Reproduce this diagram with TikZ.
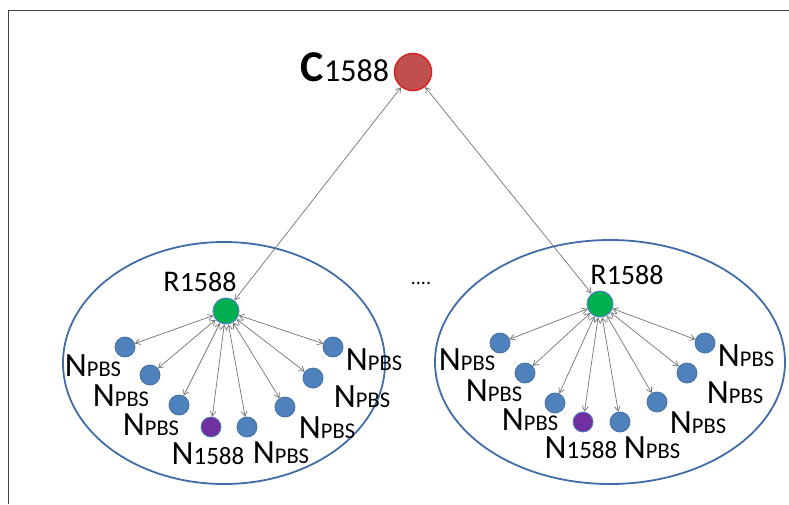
\documentclass[tikz,border=0pt]{standalone}
\usepackage{fontspec}
\setmainfont{Carlito}
\usepackage{xcolor}
\usetikzlibrary{shapes,arrows.meta,positioning}

\definecolor{hubred}{RGB}{192,80,77}
\definecolor{hubrim}{RGB}{215,35,35}
\definecolor{relaygreen}{RGB}{0,176,80}
\definecolor{nodeblue}{RGB}{79,129,189}
\definecolor{nodepurple}{RGB}{112,48,160}
\definecolor{clusterblue}{RGB}{66,108,168}

\newcommand{\subtxt}[2]{{\fontsize{#1}{#1}\selectfont #2}}
\newcommand{\npbs}{N\subtxt{22.5}{PBS}}
\newcommand{\nieee}{N\subtxt{25}{1588}}
\newcommand{\rieee}{R\subtxt{28}{1588}}

\begin{document}
\begin{tikzpicture}[
    x=1pt, y=-1pt,
    frame/.style={draw=black!75, line width=1pt},
    cluster/.style={ellipse, draw=clusterblue, line width=1.8pt, inner sep=0pt},
    hub/.style={circle, fill=hubred, draw=hubrim, line width=1.5pt, minimum size=37pt, inner sep=0pt},
    relay/.style={circle, fill=relaygreen, draw=nodeblue, line width=1pt, minimum size=26pt, inner sep=0pt},
    pbs/.style={circle, fill=nodeblue, draw=nodeblue!85!black, line width=0.8pt, minimum size=20pt, inner sep=0pt},
    ieee/.style={pbs, fill=nodepurple, draw=nodeblue},
    lab/.style={inner sep=0pt, font=\fontsize{34}{34}\selectfont},
    rlab/.style={inner sep=0pt, font=\fontsize{30}{30}\selectfont},
    link/.style={<->, >={Straight Barb[length=5pt, width=6pt]}, line width=0.7pt, color=black!55}
]
    \useasboundingbox (0,0) rectangle (789,504);
    \draw[frame] (8,504) -- (8,10) -- (789,10);

    % Two clusters
    \node[cluster, minimum width=322pt, minimum height=242pt] (leftcl)  at (224,363) {};
    \node[cluster, minimum width=350pt, minimum height=244pt] (rightcl) at (610,362) {};
    \node[font=\fontsize{20}{20}\selectfont, inner sep=0pt] (dots) at (421,283) {....};

    % Grandmaster clock
    \node[hub] (gm) at (413,72) {};
    \node[inner sep=0pt, anchor=base] (gmlab) at (345,81) {\fontsize{44}{44}\selectfont\textbf{C}\subtxt{32}{1588}};

    % Left cluster
    \node[relay] (r1) at (226,311) {};
    \node[rlab] (r1lab) at (200,282) {\rieee};
    \node[pbs]  (n11) at (125,347) {};
    \node[pbs]  (n12) at (150,375) {};
    \node[pbs]  (n13) at (179,405) {};
    \node[ieee] (n14) at (211,427) {};
    \node[pbs]  (n15) at (247,427) {};
    \node[pbs]  (n16) at (285,407) {};
    \node[pbs]  (n17) at (313,378) {};
    \node[pbs]  (n18) at (333,347) {};
    \node[lab] (t11) at (93,366)  {\npbs};
    \node[lab] (t12) at (121,396) {\npbs};
    \node[lab] (t13) at (151,425) {\npbs};
    \node[lab] (t14) at (208,454) {\nieee};
    \node[lab] (t15) at (281,453) {\npbs};
    \node[lab] (t16) at (327,428) {\npbs};
    \node[lab] (t17) at (362,397) {\npbs};
    \node[lab] (t18) at (374,360) {\npbs};

    % Right cluster
    \node[relay] (r2) at (600,304) {};
    \node[rlab] (r2lab) at (627,275) {\rieee};
    \node[pbs]  (n21) at (500,343) {};
    \node[pbs]  (n22) at (525,373) {};
    \node[pbs]  (n23) at (555,403) {};
    \node[ieee] (n24) at (583,422) {};
    \node[pbs]  (n25) at (620,422) {};
    \node[pbs]  (n26) at (657,402) {};
    \node[pbs]  (n27) at (687,373) {};
    \node[pbs]  (n28) at (705,343) {};
    \node[lab] (t21) at (467,360) {\npbs};
    \node[lab] (t22) at (494,391) {\npbs};
    \node[lab] (t23) at (530,420) {\npbs};
    \node[lab] (t24) at (581,448) {\nieee};
    \node[lab] (t25) at (652,448) {\npbs};
    \node[lab] (t26) at (698,423) {\npbs};
    \node[lab] (t27) at (735,393) {\npbs};
    \node[lab] (t28) at (746,356) {\npbs};

    % Sync links
    \draw[link] (gm) -- (r1);
    \draw[link] (gm) -- (r2);

    \draw[link] (r1) -- (n11);
    \draw[link] (r1) -- (n12);
    \draw[link] (r1) -- (n13);
    \draw[link] (r1) -- (n14);
    \draw[link] (r1) -- (n15);
    \draw[link] (r1) -- (n16);
    \draw[link] (r1) -- (n17);
    \draw[link] (r1) -- (n18);

    \draw[link] (r2) -- (n21);
    \draw[link] (r2) -- (n22);
    \draw[link] (r2) -- (n23);
    \draw[link] (r2) -- (n24);
    \draw[link] (r2) -- (n25);
    \draw[link] (r2) -- (n26);
    \draw[link] (r2) -- (n27);
    \draw[link] (r2) -- (n28);
\end{tikzpicture}
\end{document}
